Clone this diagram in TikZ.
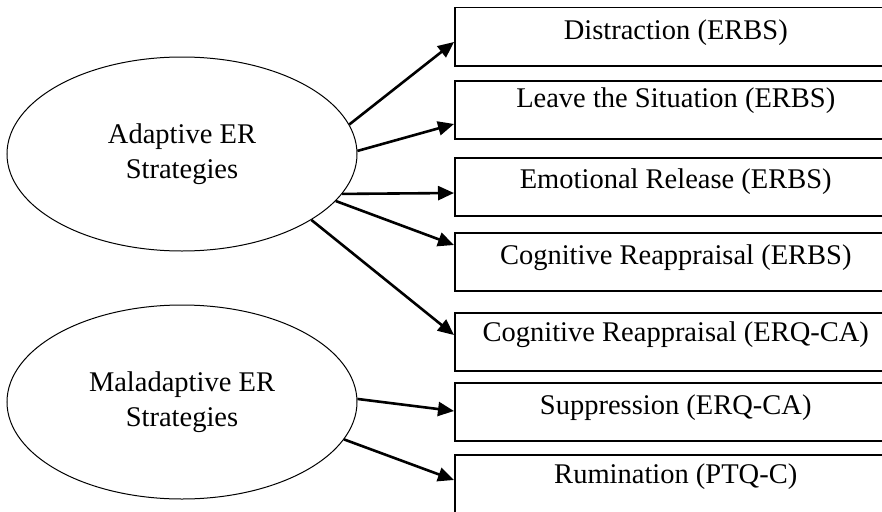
\documentclass[tikz,border=0pt]{standalone}
\usepackage{fontspec}
\setmainfont{Liberation Serif}
\usetikzlibrary{shapes.geometric,arrows.meta,calc}
\begin{document}
\begin{tikzpicture}[x=1pt,y=-1pt,
  oval/.style={draw,ellipse,line width=1pt,minimum width=350pt,minimum height=194pt,inner sep=0pt,
    align=center,font=\fontsize{28.5}{35}\selectfont},
  mbox/.style={draw,line width=1.5pt,minimum width=442pt,minimum height=58pt,inner sep=0pt,anchor=north west},
  mtext/.style={font=\fontsize{28.5}{34}\selectfont,inner sep=0pt},
  arr/.style={line width=2.6pt,-{Triangle[length=16pt,width=14pt]}}]
\useasboundingbox (0,0) rectangle (882,511);
\clip (0,0) rectangle (882,511);
\node[oval] (ad) at (182,154) {Adaptive ER\\Strategies};
\node[oval] (mal) at (182,402) {Maladaptive ER\\Strategies};
\node[mbox] (b1) at (454,7) {};
\node[mbox] (b2) at (454,80) {};
\node[mbox] (b3) at (454,157) {};
\node[mbox] (b4) at (454,232) {};
\node[mbox] (b5) at (454,312) {};
\node[mbox] (b6) at (454,382) {};
\node[mbox] (b7) at (454,454) {};
\node[mtext] (t1) at ($(b1.north)+(0,26)$) {Distraction (ERBS)};
\node[mtext] (t2) at ($(b2.north)+(0,21)$) {Leave the Situation (ERBS)};
\node[mtext] (t3) at ($(b3.north)+(0,25)$) {Emotional Release (ERBS)};
\node[mtext] (t4) at ($(b4.north)+(0,26)$) {Cognitive Reappraisal (ERBS)};
\node[mtext] (t5) at ($(b5.north)+(0,23)$) {Cognitive Reappraisal (ERQ-CA)};
\node[mtext] (t6) at ($(b6.north)+(0,26)$) {Suppression (ERQ-CA)};
\node[mtext] (t7) at ($(b7.north)+(0,23)$) {Rumination (PTQ-C)};
\draw[arr] (ad.10) -- ($(b1.north west)+(0,35)$);
\draw[arr] (ad.1) -- ($(b2.north west)+(0,44)$);
\draw[arr] (ad.-14) -- ($(b3.north west)+(0,36)$);
\draw[arr] (ad.-17) -- ($(b4.north west)+(0,13)$);
\draw[arr] (ad.-27) -- ($(b5.north west)+(0,23)$);
\draw[arr] (mal.1) -- ($(b6.north west)+(0,29)$);
\draw[arr] (mal.-13) -- ($(b7.north west)+(0,26)$);
\end{tikzpicture}
\end{document}
